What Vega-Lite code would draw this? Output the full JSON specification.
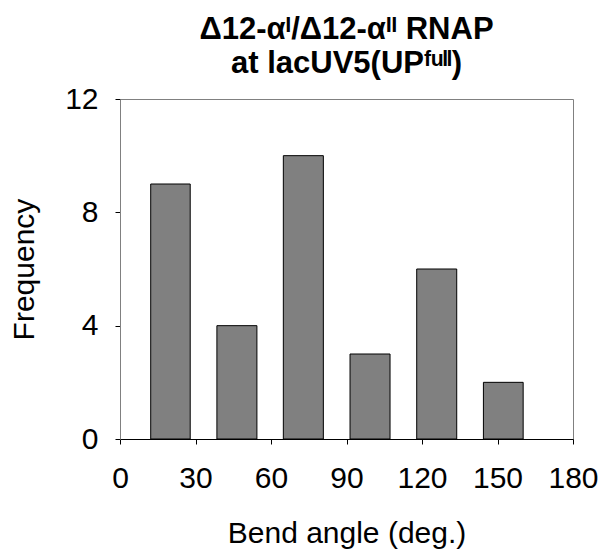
{
  "$schema": "https://vega.github.io/schema/vega-lite/v6.json",
  "autosize": "none",
  "width": 453,
  "height": 340,
  "padding": {"left": 120, "top": 99, "right": 29, "bottom": 111},
  "background": "white",
  "config": {
    "font": "Liberation Sans",
    "view": {"stroke": "#808080", "strokeWidth": 1}
  },
  "title": {
    "text": ["Δ12-αᴵ/Δ12-αᴵᴵ RNAP", "at lacUV5(UPᶠᵘˡˡ)"],
    "font": "Liberation Sans",
    "fontSize": 31,
    "fontWeight": "bold",
    "color": "black",
    "anchor": "middle",
    "offset": 4,
    "lineHeight": 34
  },
  "data": {
    "values": [
      {"start": 12.2, "end": 27.9, "frequency": 9},
      {"start": 38.5, "end": 54.4, "frequency": 4},
      {"start": 64.9, "end": 80.8, "frequency": 10},
      {"start": 91.4, "end": 107.3, "frequency": 3},
      {"start": 117.9, "end": 133.8, "frequency": 6},
      {"start": 144.4, "end": 160.2, "frequency": 2}
    ]
  },
  "mark": {"type": "rect", "fill": "#808080", "stroke": "black", "strokeWidth": 1},
  "encoding": {
    "x": {
      "field": "start",
      "type": "quantitative",
      "scale": {"domain": [0, 180], "nice": false},
      "axis": {
        "values": [0, 30, 60, 90, 120, 150, 180],
        "title": "Bend angle (deg.)",
        "grid": false,
        "domainColor": "black",
        "tickColor": "black",
        "tickSize": 5,
        "labelFontSize": 30,
        "labelColor": "black",
        "labelPadding": 19,
        "labelFlush": false,
        "labelOverlap": false,
        "titleFontSize": 30,
        "titleFontWeight": "normal",
        "titleColor": "black",
        "titlePadding": 25
      }
    },
    "x2": {"field": "end"},
    "y": {
      "field": "frequency",
      "type": "quantitative",
      "scale": {"domain": [0, 12], "nice": false},
      "axis": {
        "values": [0, 4, 8, 12],
        "title": "Frequency",
        "grid": false,
        "domainColor": "#808080",
        "tickColor": "black",
        "tickSize": 5,
        "labelFontSize": 30,
        "labelColor": "black",
        "labelPadding": 17,
        "labelFlush": false,
        "titleFontSize": 30,
        "titleFontWeight": "normal",
        "titleColor": "black",
        "titlePadding": 25
      }
    },
    "y2": {"datum": 0}
  }
}
